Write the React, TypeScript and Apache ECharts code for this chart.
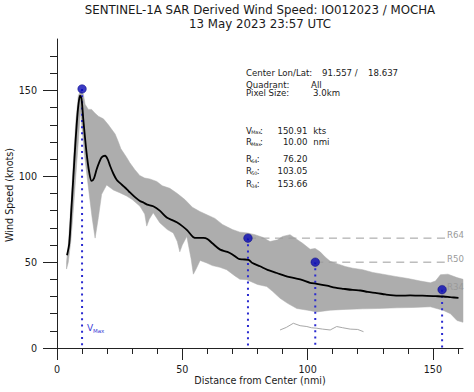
import React, { useEffect, useRef } from "react";
import * as echarts from "echarts";

// ---- data ----
const titleLine1 = "SENTINEL-1A SAR Derived Wind Speed: IO012023 / MOCHA";
const titleLine2 = "13 May 2023 23:57 UTC";

const xMajorTicks = [0, 50, 100, 150];
const xMinorTicks = [10, 20, 30, 40, 60, 70, 80, 90, 110, 120, 130, 140, 160];
const yMajorTicks = [0, 50, 100, 150];
const yMinorTicks = [10, 20, 30, 40, 60, 70, 80, 90, 110, 120, 130, 140, 160, 170];

// mean wind profile (black line)
const meanX = [4.0, 4.9, 5.7, 6.5, 7.2, 7.9, 8.5, 9.2, 9.8, 10.5, 11.8, 12.9, 13.8, 14.8, 15.8, 16.8, 17.8, 19.2, 20.2, 21.2, 22.5, 23.8, 25.2, 26.5, 28, 29.1, 31, 33.1, 34.4, 36, 38.4, 41, 43.8, 46, 47.8, 50, 52, 54.4, 56, 58.4, 60, 62, 65.1, 68, 70, 72.4, 74, 76.4, 78, 81, 84, 87.7, 91, 94.3, 98, 101, 103.7, 107.7, 111, 114.3, 118, 121, 124, 127.6, 131, 134.2, 137, 140.9, 144, 147.6, 151, 154.2, 157, 160.2];
const meanY = [54, 61, 80, 99, 116, 131, 141, 147, 145, 133, 113.7, 102, 97.3, 99, 104, 108, 111, 112, 110, 106, 101.5, 98, 96, 94.3, 92.3, 90.6, 88, 85.6, 84.8, 83.5, 82.6, 80, 76, 74.5, 73.2, 71, 68.5, 64.5, 64.1, 64.1, 63.5, 61, 57.3, 56, 54.5, 52, 51.6, 51.4, 49.5, 47.6, 45.5, 43.7, 42, 40.8, 39.5, 38, 37.4, 36.3, 35.2, 34.5, 33.8, 33.5, 32.7, 32, 31.2, 30.6, 30.5, 30.6, 30.5, 30.4, 30.2, 30, 29.6, 29.2];

// envelope of the grey pixel cloud
const cloudUpperX = [3.8, 4.5, 5.5, 6.5, 7.5, 8.5, 9.5, 10.5, 11.2, 12.5, 13.8, 15, 16.5, 18.5, 20.5, 21.5, 23.2, 24.5, 25.5, 27.8, 29, 31, 33, 35, 37, 39.8, 42, 45, 48, 51, 54, 57, 60, 63, 66, 68, 70, 73, 76, 79, 82, 85, 88, 90, 93, 95, 98, 101, 103, 105, 107, 109, 112, 115, 118, 122, 126, 130, 135, 140, 145, 149, 151, 153, 156, 159.6, 162];
const cloudUpperY = [50, 60, 82, 108, 132, 147, 150, 148, 142, 139, 139, 137, 135, 133.5, 130, 128, 124.6, 120, 116, 111, 108, 104, 100.5, 99, 98.5, 97, 94.5, 93, 90, 86.5, 82, 79.5, 77.5, 75.5, 72, 70.5, 69, 67.5, 67, 66, 64.5, 62, 63, 65, 66, 64, 61, 57.5, 58, 56, 53, 50.5, 49, 47.5, 46.5, 45.6, 44, 43, 41.7, 40.5, 39, 38, 39, 42.7, 43, 41, 40];
const cloudLowerX = [3.8, 4.5, 5.5, 6.5, 7.5, 8.5, 9.3, 10, 11, 12, 13, 14, 15.2, 16.5, 17.8, 19.8, 22.5, 25, 27.8, 30, 33.1, 35, 35.8, 36.8, 38.4, 41, 44, 46.4, 48, 49, 50, 51.8, 53.5, 54.4, 55.5, 57.1, 59.8, 62, 65, 67.7, 71, 73, 75.7, 80, 83.7, 86, 89, 92, 95.7, 100, 103.7, 109, 115, 122, 128, 135.6, 142, 149, 154, 157, 159.6, 162];
const cloudLowerY = [46, 50, 62, 80, 100, 120, 138, 128, 112, 100, 88, 76, 64, 76, 89.5, 95, 92, 90.5, 88.5, 86.5, 82.6, 78, 71, 75, 78.8, 73, 69, 67, 62, 56, 60, 65, 52, 43, 46, 51, 49.5, 48, 47, 45.6, 42, 40, 39.8, 37, 35.8, 33, 29, 26, 23, 22, 21, 22, 22.5, 22.8, 23, 23.4, 23.6, 24, 22, 20, 16, 15];

// thin grey trace near the bottom
const traceX = [89, 91.5, 94.3, 97, 99.7, 101.5, 103.7, 106, 109, 111.6, 114, 117, 120, 122.3];
const traceY = [10.5, 12, 14.4, 13, 12.5, 11.8, 11.5, 11, 10.5, 12.5, 11.8, 11, 10.8, 9.5];

// radii and wind thresholds
const radiusNames = ["VMax", "R64", "R50", "R34"];
const radiusX = [10.0, 76.2, 103.05, 153.66];
const radiusY = [150.91, 64, 50, 34];
const thresholdNames = ["R64", "R50", "R34"];
const thresholdValues = [64, 50, 34];
const thresholdEndX = 155.2;

const centerLon = "91.557 /";
const centerLat = "18.637";
const quadrant = "All";
const pixelSize = "3.0km";
const statMain = ["V", "R", "R", "R", "R"];
const statSub = ["Max", "Max", "64", "50", "34"];
const statValues = ["150.91", "10.00", "76.20", "103.05", "153.66"];
const statUnits = ["kts", "nmi", "", "", ""];

const FONT = '"DejaVu Sans", sans-serif';

export default function App() {
  const ref = useRef<HTMLDivElement>(null);

  useEffect(() => {
    if (!ref.current) return;
    const chart = echarts.init(ref.current, null, { renderer: "svg" });

    const txt = (text: string, x: number, y: number, size: number, extra: any = {}) => ({
      type: "text",
      x,
      y,
      silent: true,
      style: {
        text,
        fill: extra.fill || "#1a1a1a",
        font: `${size}px ${FONT}`,
        lineHeight: extra.lh || Math.round(size * 1.05),
        textAlign: extra.align || "left",
        textVerticalAlign: "middle",
      },
      ...(extra.rotation !== undefined ? { rotation: extra.rotation } : {}),
    });

    const graphics: any[] = [
      txt(titleLine1, 260, 10.3, 11.8, { align: "center", lh: 12 }),
      txt(titleLine2, 260, 23.6, 11.8, { align: "center", lh: 12 }),
      txt("Distance from Center (nmi)", 260, 380, 9.6, { align: "center" }),
      txt("Wind Speed (knots)", 9, 195, 9.6, { align: "center", rotation: Math.PI / 2 }),
      txt("Center Lon/Lat:", 246, 73.3, 8.6),
      txt(centerLon, 322, 73.3, 8.6),
      txt(centerLat, 368, 73.3, 8.6),
      txt("Quadrant:", 246, 84.8, 8.6, { lh: 8 }),
      txt(quadrant, 311, 84.8, 8.6, { lh: 8 }),
      txt("Pixel Size:", 246, 93.4, 8.6, { lh: 8 }),
      txt(pixelSize, 313, 93.4, 8.6, { lh: 8 }),
    ];
    const statY = [130.7, 142.3, 159.3, 171, 184];
    statMain.forEach((m, i) => {
      const subW = statSub[i] === "Max" ? 8.5 : 5.2;
      graphics.push(txt(m, 246, statY[i], 8.6));
      graphics.push(txt(statSub[i], 251.2, statY[i] + 2.2, 4.8));
      graphics.push(txt(":", 251.6 + subW, statY[i], 8.6));
      graphics.push(txt(statValues[i], 307.5, statY[i], 8.6, { align: "right" }));
      if (statUnits[i]) graphics.push(txt(statUnits[i], 313.3, statY[i], 8.6));
    });
    graphics.push(txt("V", 87, 328, 9, { fill: "#3b3bd6" }));
    graphics.push(txt("Max", 93, 330.5, 5.5, { fill: "#3b3bd6" }));

    const series: any[] = [];

    series.push({
      type: "custom",
      z: 1,
      silent: true,
      data: [[80, 50]],
      encode: { x: 0, y: 1 },
      renderItem: (_p: any, api: any) => {
        const pts: number[][] = [];
        for (let i = 0; i < cloudUpperX.length; i++) pts.push(api.coord([cloudUpperX[i], cloudUpperY[i]]));
        for (let i = cloudLowerX.length - 1; i >= 0; i--) pts.push(api.coord([cloudLowerX[i], cloudLowerY[i]]));
        return {
          type: "polygon",
          shape: { points: pts },
          style: { fill: "#adadad", stroke: "#adadad", lineWidth: 0.5 },
        };
      },
    });

    series.push({
      type: "line",
      z: 2,
      silent: true,
      symbol: "none",
      data: traceX.map((x, i) => [x, traceY[i]]),
      lineStyle: { color: "#a8a8a8", width: 1 },
    });

    radiusX.forEach((x, i) => {
      series.push({
        type: "line",
        name: radiusNames[i],
        z: 3,
        silent: true,
        symbol: "none",
        data: [
          [x, radiusY[i]],
          [x, 0],
        ],
        lineStyle: { color: "#2a2ad0", width: 2, type: [2, 4.2] },
      });
    });

    thresholdValues.forEach((v, i) => {
      series.push({
        type: "line",
        z: 3,
        silent: true,
        symbol: "none",
        data: [
          [radiusX[i + 1], v],
          [thresholdEndX, v],
        ],
        lineStyle: { color: "#9c9c9c", width: 1, type: [8, 5.5] },
        endLabel: {
          show: true,
          formatter: thresholdNames[i],
          color: "#9a9a9a",
          fontSize: 8.6,
          fontFamily: FONT,
          distance: 1,
          offset: [0, -3],
        },
      });
    });

    series.push({
      type: "line",
      z: 4,
      silent: true,
      symbol: "none",
      smooth: 0.3,
      data: meanX.map((x, i) => [x, meanY[i]]),
      lineStyle: { color: "#000000", width: 1.8 },
    });

    series.push({
      type: "scatter",
      z: 5,
      silent: true,
      symbolSize: 8.5,
      data: radiusX.map((x, i) => [x, radiusY[i]]),
      itemStyle: { color: "#0a0ab4", borderColor: "#000080", borderWidth: 0.6 },
    });

    const axisColor = "#222222";
    chart.setOption({
      animation: false,
      backgroundColor: "#ffffff",
      textStyle: { fontFamily: FONT },
      grid: { left: 57, right: 11, top: 39, bottom: 44, outerBoundsMode: "none" },
      xAxis: [
        {
          type: "value",
          min: 0,
          max: 162,
          position: "bottom",
          axisLine: { show: true, lineStyle: { color: axisColor, width: 1 } },
          axisTick: { show: true, customValues: xMajorTicks, length: 12, lineStyle: { color: axisColor } },
          axisLabel: { customValues: xMajorTicks, margin: 16, fontSize: 9.6, color: "#1a1a1a" },
          splitLine: { show: false },
        },
        {
          type: "value",
          min: 0,
          max: 162,
          position: "bottom",
          axisLine: { show: false },
          axisTick: { show: true, customValues: xMinorTicks, length: 6, lineStyle: { color: axisColor } },
          axisLabel: { show: false },
          splitLine: { show: false },
        },
      ],
      yAxis: [
        {
          type: "value",
          min: 0,
          max: 180,
          position: "left",
          axisLine: { show: true, lineStyle: { color: axisColor, width: 1 } },
          axisTick: { show: true, customValues: yMajorTicks, length: 14, lineStyle: { color: axisColor } },
          axisLabel: { customValues: yMajorTicks, margin: 20, fontSize: 9.6, color: "#1a1a1a" },
          splitLine: { show: false },
        },
        {
          type: "value",
          min: 0,
          max: 180,
          position: "left",
          axisLine: { show: false },
          axisTick: { show: true, customValues: yMinorTicks, length: 7, lineStyle: { color: axisColor } },
          axisLabel: { show: false },
          splitLine: { show: false },
        },
      ],
      series,
      graphic: graphics,
    });

    return () => chart.dispose();
  }, []);

  return (
    <div
      ref={ref}
      style={{ position: "fixed", left: 0, top: 0, width: 474, height: 392, background: "#fff" }}
    />
  );
}
